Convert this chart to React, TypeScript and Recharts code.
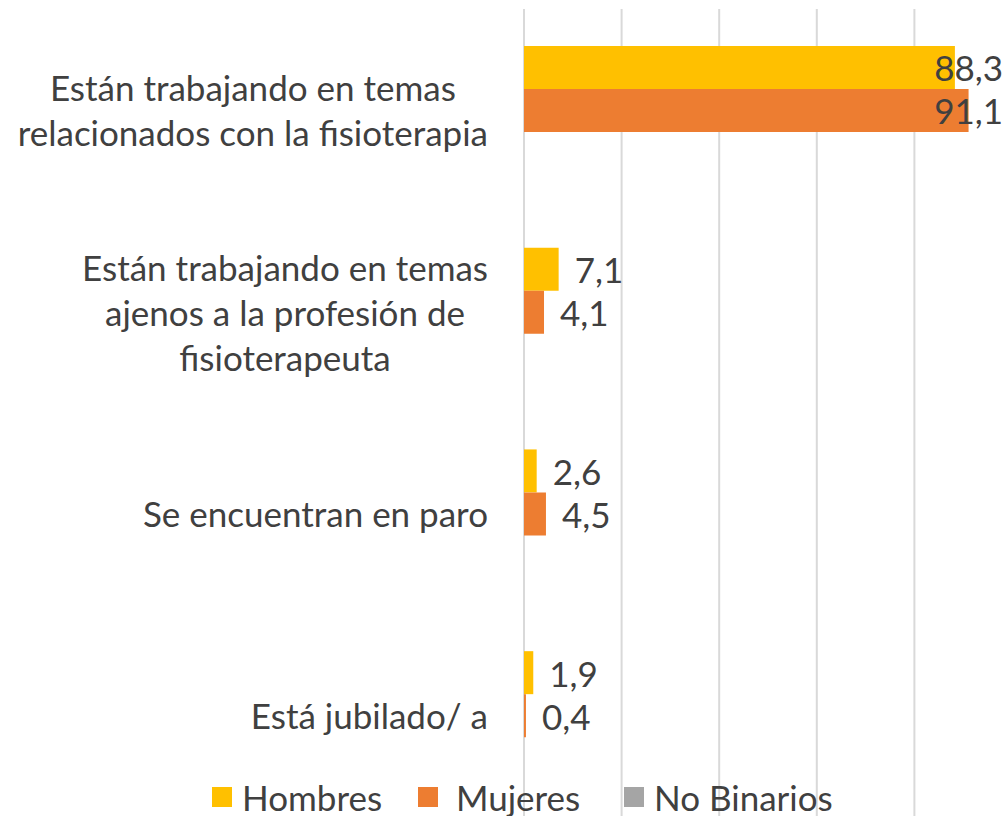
import React from "react";
import { BarChart, Bar, XAxis, YAxis, CartesianGrid, Legend, LabelList } from "recharts";

const categories = [
  "Están trabajando en temas\nrelacionados con la fisioterapia",
  "Están trabajando en temas\najenos a la profesión de\nfisioterapeuta",
  "Se encuentran en paro",
  "Está jubilado/ a",
];
const hombres = [88.3, 7.1, 2.6, 1.9];
const mujeres = [91.1, 4.1, 4.5, 0.4];
const noBinarios = [0, 0, 0, 0];
const xTicks = [0, 20, 40, 60, 80, 100];

const seriesNames = ["Hombres", "Mujeres", "No Binarios"];
const seriesColors = ["#FFC000", "#ED7D31", "#A5A5A5"];

const data = categories.map((c, i) => ({
  name: c,
  Hombres: hombres[i],
  Mujeres: mujeres[i],
  "No Binarios": noBinarios[i],
}));

const FONT_FAMILY = "Lato, 'Open Sans', sans-serif";
const FONT_SIZE = 35;
const TEXT_COLOR = "#404040";
const VISIBLE_RIGHT = 1003;

let ctx: CanvasRenderingContext2D | null = null;
function measure(text: string): number {
  if (!ctx) {
    const c = document.createElement("canvas");
    ctx = c.getContext("2d");
  }
  if (!ctx) return text.length * FONT_SIZE * 0.5;
  ctx.font = `${FONT_SIZE}px Lato`;
  return ctx.measureText(text).width;
}

const CategoryTick = (props: any) => {
  const { x, y, payload } = props;
  const lines: string[] = String(payload.value).split("\n");
  const maxW = Math.max(...lines.map(measure));
  const cx = x - maxW / 2;
  const lh = 45;
  return (
    <g>
      {lines.map((l, i) => (
        <text
          key={i}
          x={cx}
          y={y + (i - (lines.length - 1) / 2) * lh}
          textAnchor="middle"
          dominantBaseline="central"
          fontFamily={FONT_FAMILY}
          fontSize={FONT_SIZE}
          fill={TEXT_COLOR}
        >
          {l}
        </text>
      ))}
    </g>
  );
};

const fmt = (v: number) => v.toFixed(1).replace(".", ",");

const ValueLabel = (props: any) => {
  const { x, y, width, height, value } = props;
  if (value === undefined || value === null) return null;
  const txt = fmt(Number(value));
  const w = measure(txt);
  let tx = x + width + 16;
  let anchor: "start" | "end" = "start";
  if (tx + w > VISIBLE_RIGHT) {
    tx = VISIBLE_RIGHT;
    anchor = "end";
  }
  return (
    <text
      x={tx}
      y={y + height / 2}
      textAnchor={anchor}
      dominantBaseline="central"
      fontFamily={FONT_FAMILY}
      fontSize={FONT_SIZE}
      fill={TEXT_COLOR}
    >
      {txt}
    </text>
  );
};

const LegendContent = () => (
  <div
    style={{
      display: "flex",
      alignItems: "center",
      fontFamily: FONT_FAMILY,
      fontSize: FONT_SIZE,
      color: TEXT_COLOR,
      lineHeight: "30px",
      paddingLeft: 212,
    }}
  >
    {seriesNames.map((n, i) => (
      <div key={n} style={{ display: "flex", alignItems: "center", width: i < 2 ? 206 : undefined }}>
        <div
          style={{
            width: 20,
            height: 20,
            background: seriesColors[i],
            marginRight: i === 1 ? 18 : 10,
            flexShrink: 0,
          }}
        />
        <span style={{ whiteSpace: "nowrap" }}>{n}</span>
      </div>
    ))}
  </div>
);

export default function App() {
  return (
    <div
      style={{
        position: "absolute",
        left: 0,
        top: 0,
        width: 1007,
        height: 816,
        overflow: "hidden",
        background: "#fff",
      }}
    >
      <BarChart
        width={1012}
        height={818}
        data={data}
        layout="vertical"
        margin={{ top: 9, right: 0, bottom: 2, left: 0 }}
        barCategoryGap="18.3%"
        barGap={0}
      >
        <CartesianGrid vertical horizontal={false} stroke="#D9D9D9" strokeWidth={2} />
        <XAxis type="number" domain={[0, 100]} ticks={xTicks} hide />
        <YAxis
          type="category"
          dataKey="name"
          width={524}
          tickSize={0}
          tickMargin={36}
          axisLine={false}
          tickLine={false}
          tick={<CategoryTick />}
          interval={0}
        />
        <Legend
          layout="horizontal"
          verticalAlign="middle"
          align="center"
          content={<LegendContent />}
          wrapperStyle={{ top: 782, left: 0, width: 1007, height: 30 }}
        />
        {seriesNames.map((n, i) => (
          <Bar key={n} dataKey={n} fill={seriesColors[i]} isAnimationActive={false}>
            {n !== "No Binarios" && <LabelList dataKey={n} content={<ValueLabel />} />}
          </Bar>
        ))}
      </BarChart>
    </div>
  );
}
